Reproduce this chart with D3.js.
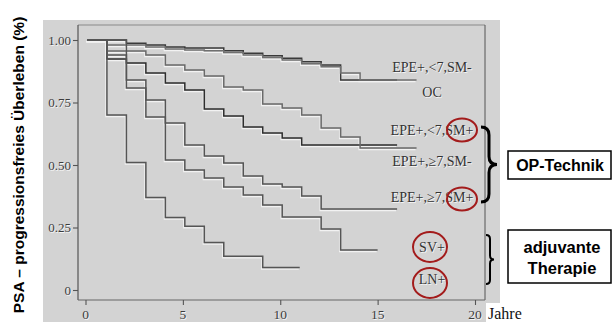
<!DOCTYPE html>
<html>
<head>
<meta charset="utf-8">
<script src="https://cdn.jsdelivr.net/npm/d3@7"></script>
<style>
  body { margin: 0; background: #fff; }
  svg { display: block; }
</style>
</head>
<body>
<main></main>
<script>
const xTicks = [0, 5, 10, 15, 20]
const yTicks = [0, 0.25, 0.5, 0.75, 1]
const yTickLabels = ["0", "0.25", "0.50", "0.75", "1.00"]

// [Jahre, progressionsfreier Anteil] - last pair is the end of follow-up
const epeLt7SmMinus = [[0.1, 1], [2.1, 0.987], [3.1, 0.98], [4.1, 0.972], [5.1, 0.968], [7.1, 0.957], [8.1, 0.947], [9.1, 0.937], [10.1, 0.927], [11.1, 0.913], [12.1, 0.9], [13.1, 0.84], [16, 0.84]]
const oc = [[0.1, 1], [1.1, 0.98], [3.1, 0.972], [4.1, 0.964], [5.1, 0.96], [6.1, 0.957], [7.1, 0.95], [8.1, 0.94], [9.1, 0.93], [10.1, 0.92], [11.1, 0.905], [12.1, 0.893], [13.1, 0.868], [14.1, 0.84], [17, 0.84]]
const epeLt7SmPlus = [[0.1, 1], [1.1, 0.924], [2.1, 0.908], [3.1, 0.868], [4.1, 0.828], [5.1, 0.8], [6.1, 0.724], [7.1, 0.696], [8.1, 0.652], [9.1, 0.628], [10.1, 0.608], [11.1, 0.58], [16, 0.58]]
const epeGe7SmMinus = [[0.1, 1], [1.1, 0.956], [3.1, 0.94], [4.1, 0.9], [5.1, 0.88], [6.1, 0.856], [7.1, 0.812], [8.1, 0.8], [9.1, 0.744], [10.1, 0.728], [11.1, 0.7], [12.1, 0.648], [13.1, 0.612], [14.1, 0.568], [17, 0.568]]
const epeGe7SmPlus = [[0.1, 1], [1.1, 0.94], [2.1, 0.84], [3.1, 0.76], [4.1, 0.668], [5.1, 0.58], [6.1, 0.536], [7.1, 0.508], [8.1, 0.456], [9.1, 0.424], [10.1, 0.412], [11.1, 0.376], [12.1, 0.324], [16, 0.324]]
const svPlus = [[0.1, 1], [2.1, 0.808], [3.1, 0.692], [4.1, 0.52], [5.1, 0.48], [6.1, 0.448], [7.1, 0.412], [8.1, 0.38], [9.1, 0.34], [10.1, 0.292], [12.1, 0.244], [13.1, 0.16], [15, 0.16]]
const lnPlus = [[0.1, 1], [1.1, 0.7], [2.1, 0.51], [3.1, 0.37], [4.1, 0.29], [5.1, 0.255], [6.1, 0.19], [7.1, 0.135], [9.1, 0.09], [11, 0.09]]

const series = [
  { name: "EPE+,<7,SM-", pts: epeLt7SmMinus, color: "#3a3a3a", ly: 72 },
  { name: "OC", pts: oc, color: "#707070", ly: 97 },
  { name: "EPE+,<7,SM+", pts: epeLt7SmPlus, color: "#2e2e2e", ly: 135 },
  { name: "EPE+,\u22657,SM-", pts: epeGe7SmMinus, color: "#6a6a6a", ly: 166 },
  { name: "EPE+,\u22657,SM+", pts: epeGe7SmPlus, color: "#555", ly: 202 },
  { name: "SV+", pts: svPlus, color: "#555", ly: 252 },
  { name: "LN+", pts: lnPlus, color: "#555", ly: 284 },
]

const w = 612
const h = 322
const frameLeft = 78, frameRight = 485, frameTop = 25, frameBottom = 300

const svg = d3
  .select("main")
  .append("svg")
  .attr("width", w)
  .attr("height", h)
  .style("font-family", "'Liberation Serif', 'Times New Roman', serif")

const x = d3.scaleLinear().domain([0, 20]).range([85.5, 475])
const y = d3.scaleLinear().domain([0, 1]).range([290, 40])

// grey scanned background
svg.append("rect").attr("x", 43).attr("y", 20).attr("width", 457).attr("height", 283).attr("fill", "#d3d3d3")
svg.append("rect").attr("x", 43).attr("y", 300).attr("width", 443).attr("height", 22).attr("fill", "#d3d3d3")

// frame
svg.append("line").attr("x1", frameLeft).attr("x2", frameRight).attr("y1", frameTop).attr("y2", frameTop).attr("stroke", "#8a8a8a").attr("stroke-width", 1.2)
svg.append("line").attr("x1", frameRight).attr("x2", frameRight).attr("y1", frameTop).attr("y2", frameBottom).attr("stroke", "#555").attr("stroke-width", 1)
svg.append("line").attr("x1", frameLeft).attr("x2", frameLeft).attr("y1", frameTop).attr("y2", frameBottom).attr("stroke", "#555").attr("stroke-width", 1.2)
svg.append("line").attr("x1", frameLeft).attr("x2", frameRight).attr("y1", frameBottom).attr("y2", frameBottom).attr("stroke", "#666").attr("stroke-width", 1.2)

// axes (ticks only, labels drawn embossed below)
svg
  .append("g")
  .attr("transform", `translate(${frameLeft},0)`)
  .call(d3.axisLeft(y).tickValues(yTicks).tickFormat("").tickSize(5).tickSizeOuter(0))
svg
  .append("g")
  .attr("transform", `translate(0,${frameBottom})`)
  .call(d3.axisBottom(x).tickValues(xTicks).tickFormat("").tickSize(5).tickSizeOuter(0))
svg.selectAll(".domain").remove()
svg.selectAll(".tick line").attr("stroke", "#555").attr("stroke-width", 1.1)

const emboss = (g, txt, tx, ty, size, anchor, col) => {
  g.append("text").attr("x", tx + 0.8).attr("y", ty + 1).attr("text-anchor", anchor)
    .attr("font-size", size).attr("fill", "#f6f6f6").text(txt)
  g.append("text").attr("x", tx).attr("y", ty).attr("text-anchor", anchor)
    .attr("font-size", size).attr("fill", col).text(txt)
}

yTicks.forEach((d, i) => emboss(svg, yTickLabels[i], 71, y(d) + 4.5, 13, "end", "#3c3c3c"))
xTicks.forEach((d) => emboss(svg, d, x(d), 319, 13.5, "middle", "#3c3c3c"))

svg.append("text").attr("x", 488).attr("y", 319).attr("font-size", 16).attr("fill", "#111").text("Jahre")

// survival curves
const line = d3
  .line()
  .x((d) => x(d[0]))
  .y((d) => y(d[1]))
  .curve(d3.curveStepAfter)

series.forEach((s) => {
  svg.append("path").attr("d", line(s.pts)).attr("fill", "none")
    .attr("stroke", "#f2f2f2").attr("stroke-width", 1.3).attr("transform", "translate(-1,1.6)")
})
series.forEach((s) => {
  svg.append("path").attr("d", line(s.pts)).attr("fill", "none")
    .attr("stroke", s.color).attr("stroke-width", 1.5)
})

// curve labels
series.forEach((s) => emboss(svg, s.name, 432, s.ly, 14, "middle", "#333"))

// red circles
const circles = [
  { cx: 462, cy: 130, rx: 15, ry: 11.5 },
  { cx: 462, cy: 199, rx: 15, ry: 11.5 },
  { cx: 430, cy: 247, rx: 17, ry: 15 },
  { cx: 430, cy: 283, rx: 17, ry: 15 },
]
svg.selectAll("ellipse").data(circles).enter().append("ellipse")
  .attr("cx", (d) => d.cx).attr("cy", (d) => d.cy).attr("rx", (d) => d.rx).attr("ry", (d) => d.ry)
  .attr("fill", "none").attr("stroke", "#a31b1b").attr("stroke-width", 2)

// braces
const brace = (bx, y0, y1, bw) => {
  const m = (y0 + y1) / 2, q = bw / 2
  return `M${bx},${y0} Q${bx + q},${y0} ${bx + q},${y0 + q} L${bx + q},${m - q} Q${bx + q},${m} ${bx + bw},${m} ` +
    `Q${bx + q},${m} ${bx + q},${m + q} L${bx + q},${y1 - q} Q${bx + q},${y1} ${bx},${y1}`
}
svg.append("path").attr("d", brace(481, 127, 202, 16)).attr("fill", "none").attr("stroke", "#000").attr("stroke-width", 3)
svg.append("path").attr("d", brace(486, 235, 284, 8)).attr("fill", "none").attr("stroke", "#000").attr("stroke-width", 2)

// boxes
const sans = "'Liberation Sans', Arial, sans-serif"
svg.append("rect").attr("x", 508).attr("y", 151).attr("width", 103).attr("height", 28)
  .attr("fill", "#fff").attr("stroke", "#000").attr("stroke-width", 1.5)
svg.append("text").attr("x", 560).attr("y", 171).attr("text-anchor", "middle").attr("font-family", sans)
  .attr("font-weight", "bold").attr("font-size", 16).text("OP-Technik")

svg.append("rect").attr("x", 508).attr("y", 230).attr("width", 103).attr("height", 53)
  .attr("fill", "#fff").attr("stroke", "#000").attr("stroke-width", 1.5)
svg.append("text").attr("x", 562).attr("y", 253).attr("text-anchor", "middle").attr("font-family", sans)
  .attr("font-weight", "bold").attr("font-size", 16.5).text("adjuvante")
svg.append("text").attr("x", 562).attr("y", 274).attr("text-anchor", "middle").attr("font-family", sans)
  .attr("font-weight", "bold").attr("font-size", 16.5).text("Therapie")

// y title
svg.append("text").attr("transform", "translate(24,165) rotate(-90)").attr("text-anchor", "middle")
  .attr("font-family", sans).attr("font-weight", "bold").attr("font-size", 15.5).attr("fill", "#000")
  .text("PSA \u2013 progressionsfreies \u00dcberleben (%)")
</script>
</body>
</html>
